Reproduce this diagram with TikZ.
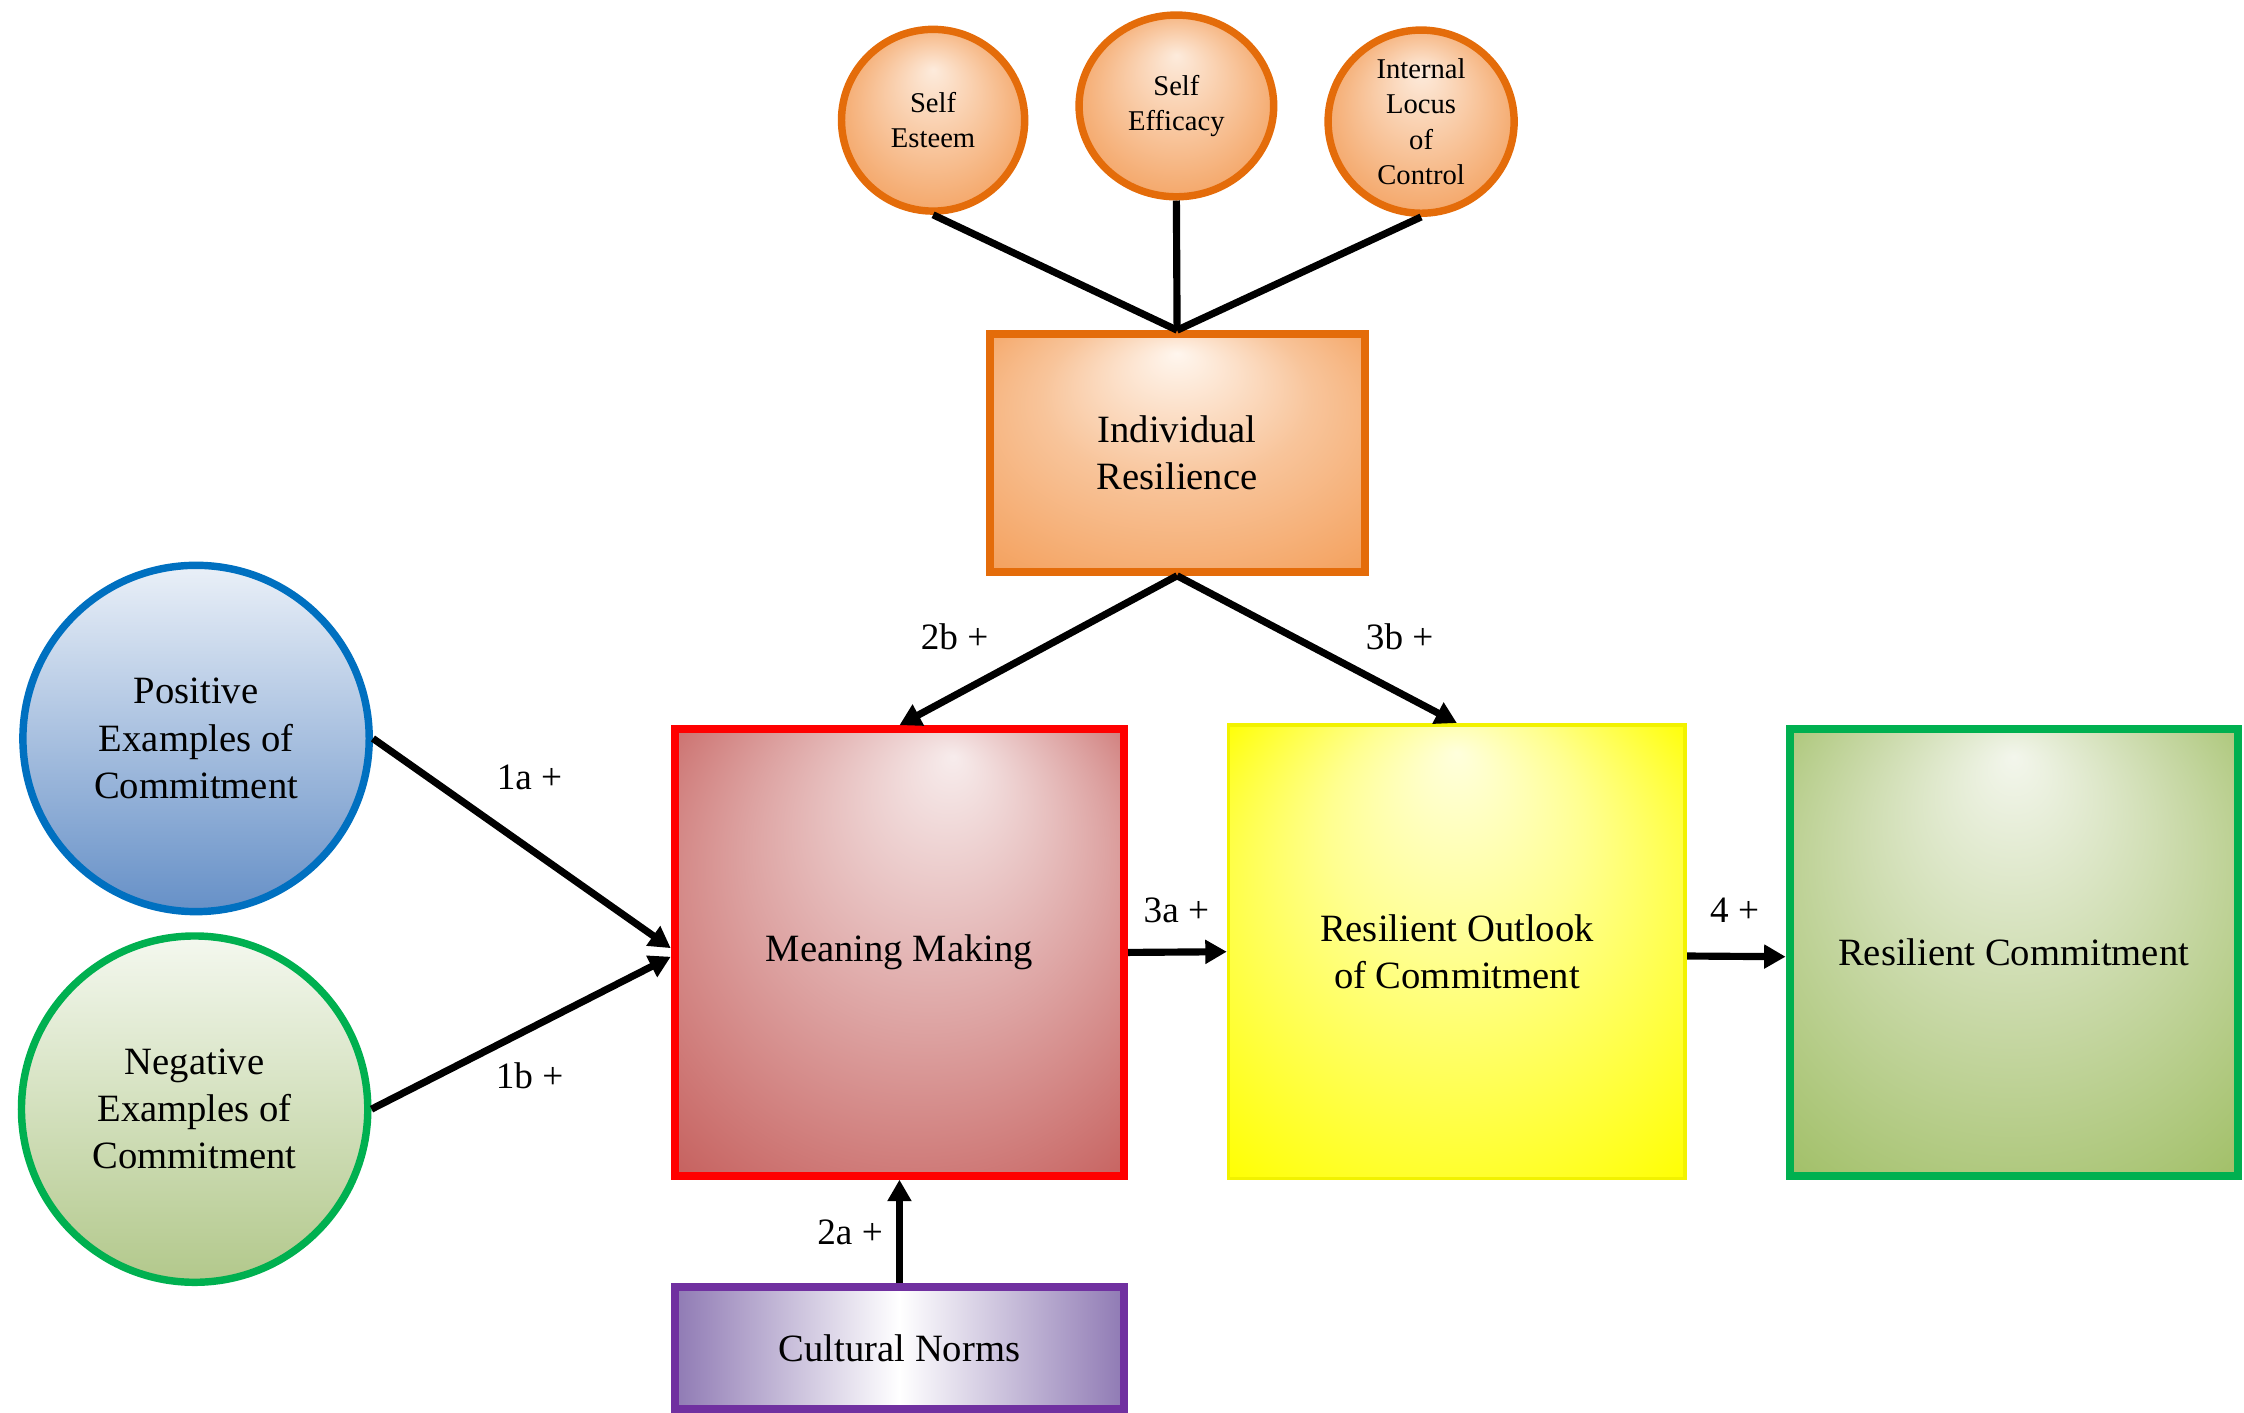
\documentclass[tikz,border=0pt]{standalone}
\usepackage{fontspec}
\setmainfont{Liberation Serif}
\usetikzlibrary{arrows.meta,shapes.geometric}

\definecolor{orBorder}{HTML}{E46C0A}
\definecolor{orIn}{HTML}{FDEBDC}
\definecolor{orOut}{HTML}{F39F5C}
\definecolor{irIn}{HTML}{FFF6EE}
\definecolor{irMid}{HTML}{F8C49A}
\definecolor{irOut}{HTML}{F39A52}
\definecolor{mmIn}{HTML}{F7ECEC}
\definecolor{mmMid}{HTML}{DDA3A2}
\definecolor{mmOut}{HTML}{C0504D}
\definecolor{roIn}{HTML}{FFFFDC}
\definecolor{roMid}{HTML}{FFFF90}
\definecolor{roOut}{HTML}{FFFF00}
\definecolor{rcIn}{HTML}{F3F6EC}
\definecolor{rcMid}{HTML}{C9D9A8}
\definecolor{rcOut}{HTML}{97B957}
\definecolor{cnSide}{HTML}{8F7AB4}
\definecolor{posTop}{HTML}{EAF0F8}
\definecolor{posBot}{HTML}{6690C7}
\definecolor{negTop}{HTML}{F4F8EF}
\definecolor{negBot}{HTML}{B2C88B}
\definecolor{blueBorder}{HTML}{0070C0}
\definecolor{greenBorder}{HTML}{00B050}
\definecolor{redBorder}{HTML}{FF0000}
\definecolor{purpleBorder}{HTML}{7030A0}
\definecolor{yellowBorder}{HTML}{F2F200}

\pgfdeclareradialshading{orshade}{\pgfpoint{0bp}{14bp}}{color(0bp)=(orIn); color(30bp)=(orOut)}
\pgfdeclareradialshading{irshade}{\pgfpoint{0bp}{21bp}}{color(0bp)=(irIn); color(18bp)=(irMid); color(40bp)=(irOut)}
\pgfdeclareradialshading{mmshade}{\pgfpoint{6bp}{22bp}}{color(0bp)=(mmIn); color(20bp)=(mmMid); color(42bp)=(mmOut)}
\pgfdeclareradialshading{roshade}{\pgfpoint{0bp}{22bp}}{color(0bp)=(roIn); color(14bp)=(roMid); color(36bp)=(roOut)}
\pgfdeclareradialshading{rcshade}{\pgfpoint{0bp}{22bp}}{color(0bp)=(rcIn); color(19bp)=(rcMid); color(42bp)=(rcOut)}

\tikzset{
  mainfont/.style={font=\fontsize{13.5}{16.5}\selectfont},
  smallcirc/.style={ellipse, draw=orBorder, line width=2.6pt, shading=orshade,
     inner sep=0pt, align=center, font=\fontsize{10}{12.3}\selectfont},
  bigcirc/.style={ellipse, line width=2.6pt, inner sep=0pt, align=center, mainfont,
     minimum width=121pt, minimum height=121pt},
  box/.style={rectangle, inner sep=0pt, align=center, mainfont},
  conn/.style={line width=2.5pt, draw=black},
  arr/.style={line width=2.5pt, draw=black, -{Triangle[length=7.5pt,width=8pt]}},
  lbl/.style={font=\fontsize{13}{15}\selectfont, inner sep=0pt}
}

\begin{document}
\begin{tikzpicture}[x=0.5pt, y=-0.5pt]
\useasboundingbox (0,0) rectangle (1568,987);

% top circles
\node[smallcirc, minimum width=64pt, minimum height=63.5pt] (se) at (652,84) {Self\\Esteem};
\node[smallcirc, minimum width=68pt, minimum height=63.5pt] (sf) at (822,74) {Self\\Efficacy};
\node[smallcirc, minimum width=65pt, minimum height=64pt] (il) at (993,85) {Internal\\Locus\\of\\Control};

% individual resilience
\node[box, draw=orBorder, line width=2.8pt, shading=irshade, minimum width=131pt, minimum height=83pt] (ir) at (822.5,316.5) {Individual\\Resilience};

% left circles
\node[bigcirc, draw=blueBorder, top color=posTop, bottom color=posBot] (pos) at (137,516) {Positive\\Examples of\\Commitment};
\node[bigcirc, draw=greenBorder, top color=negTop, bottom color=negBot] (neg) at (136,775) {Negative\\Examples of\\Commitment};

% main boxes
\node[box, draw=redBorder, line width=2.8pt, shading=mmshade, minimum width=157pt, minimum height=156pt] (mm) at (628.5,665.5) {Meaning Making};
\node[box, draw=yellowBorder, line width=1.3pt, shading=roshade, minimum width=159.5pt, minimum height=158.5pt] (ro) at (1018,665) {Resilient Outlook\\of Commitment};
\node[box, draw=greenBorder, line width=2.8pt, shading=rcshade, minimum width=156.5pt, minimum height=156pt] (rc) at (1407,665.5) {Resilient Commitment};
\node[box, draw=purpleBorder, line width=2.8pt, left color=cnSide, right color=cnSide, middle color=white, minimum width=157pt, minimum height=42.5pt] (cn) at (628.5,942) {Cultural Norms};

% connectors to individual resilience
\draw[conn] (se.south) -- (ir.north);
\draw[conn] (sf.south) -- (ir.north);
\draw[conn] (il.south) -- (ir.north);

% arrows
\draw[arr] (pos.east) -- ([yshift=1.5pt]mm.west);
\draw[arr] (neg.east) -- ([yshift=-1.5pt]mm.west);
\draw[arr] (ir.south) -- (mm.north);
\draw[arr] (ir.south) -- (ro.north);
\draw[arr] (mm.east) -- (ro.west);
\draw[arr] ([yshift=-1.5pt]ro.east) -- ([yshift=-1.5pt]rc.west);
\draw[arr] (cn.north) -- (mm.south);

% labels
\node[lbl] (l1a) at (370,543) {1a +};
\node[lbl] (l1b) at (370,752) {1b +};
\node[lbl] (l2b) at (667,445) {2b +};
\node[lbl] (l3b) at (978,445) {3b +};
\node[lbl] (l3a) at (822,636) {3a +};
\node[lbl] (l4) at (1212,636) {4 +};
\node[lbl] (l2a) at (594,861) {2a +};
\end{tikzpicture}
\end{document}
